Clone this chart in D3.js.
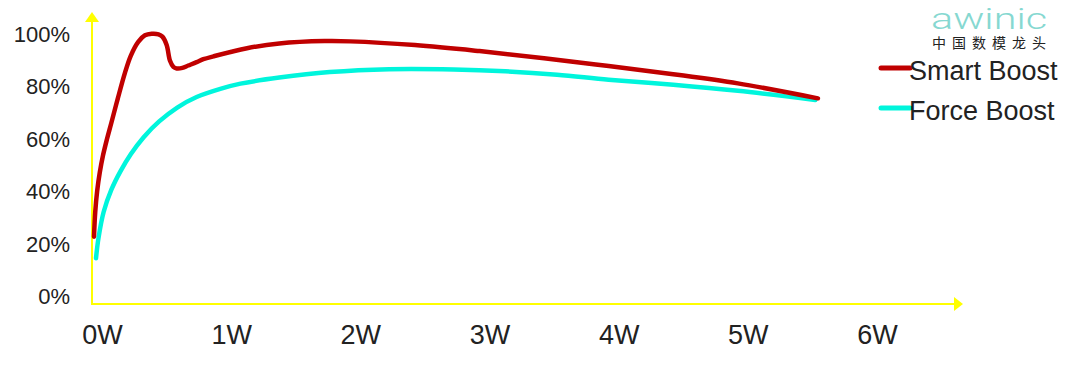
<!DOCTYPE html>
<html>
<head>
<meta charset="utf-8">
<script src="https://cdn.jsdelivr.net/npm/d3@7"></script>
<style>
  body { margin: 0; background: #fff; }
  svg { display: block; }
  .tick text { font-family: "Liberation Sans", Arial, sans-serif; fill: #222; }
</style>
</head>
<body>
<svg id="chart" width="1080" height="370"></svg>
<script>
// power in W, efficiency in %
const smartPower = [0.0155, 0.025, 0.04, 0.06, 0.085, 0.115, 0.15, 0.2, 0.255, 0.30, 0.358, 0.41, 0.462, 0.515, 0.545, 0.578, 0.604, 0.63, 0.656, 0.70, 0.745, 0.81, 0.862, 0.94, 1.2, 1.45, 1.8, 2.0, 2.5, 3.0, 3.5, 4.0, 4.5, 5.0, 5.62]
const smartEff = [22.6, 32, 40, 47, 53.5, 59.6, 66, 75.3, 85, 91.5, 96.8, 99.3, 99.9, 99.7, 98.8, 95.6, 89.6, 87.3, 86.7, 86.9, 87.8, 89.1, 90.2, 91.3, 94.4, 96.2, 97.1, 97, 95.6, 93.3, 90.6, 87.6, 84.5, 81.0, 75.3]

const forcePower = [0.031, 0.05, 0.09, 0.15, 0.22, 0.30, 0.40, 0.52, 0.66, 0.81, 1.0, 1.15, 1.45, 1.84, 2.3, 2.8, 3.2, 3.6, 4.0, 4.5, 5.0, 5.6]
const forceEff = [14.4, 22, 32, 40.5, 47.5, 54, 60.5, 66.5, 71.8, 75.8, 79, 80.9, 83.2, 85.3, 86.4, 86.3, 85.6, 84.3, 82.4, 80.5, 78.2, 74.7]

const xTicks = [0, 1, 2, 3, 4, 5, 6]
const yTicks = [0, 20, 40, 60, 80, 100]
const seriesNames = ["Smart Boost", "Force Boost"]
const seriesColors = ["#c00000", "#00f5dc"]

const svg = d3.select("#chart")

const x = d3.scaleLinear().domain([0, 6]).range([92, 867])
const y = d3.scaleLinear().domain([0, 100]).range([296, 33.5])

const axisColor = "#ffff00"
const x0 = x(0), yBase = 304

// y axis labels
const yAxis = svg.append("g")
    .attr("transform", "translate(" + x0 + ",0)")
    .call(d3.axisLeft(y).tickValues(yTicks).tickFormat(d => d + "%").tickSize(0).tickPadding(22))
yAxis.select(".domain").remove()
yAxis.selectAll("text").style("font-size", "22px").attr("dy", "0.35em")

// x axis labels
const xAxis = svg.append("g")
    .attr("transform", "translate(0," + yBase + ")")
    .call(d3.axisBottom(x).tickValues(xTicks).tickFormat(d => d + "W").tickSize(0).tickPadding(21))
xAxis.select(".domain").remove()
xAxis.selectAll("text").style("font-size", "27px").attr("dx", 10)

// yellow axes with arrows
svg.append("line")
    .attr("x1", x0).attr("x2", x0).attr("y1", yBase).attr("y2", 20)
    .attr("stroke", axisColor).attr("stroke-width", 2)
svg.append("path")
    .attr("d", `M${x0},12 L${x0 - 7},22 L${x0 + 7},22 Z`)
    .attr("fill", axisColor)
svg.append("line")
    .attr("x1", x0 - 1).attr("x2", 956).attr("y1", yBase).attr("y2", yBase)
    .attr("stroke", axisColor).attr("stroke-width", 2)
svg.append("path")
    .attr("d", `M963,${yBase} L954,${yBase - 7} L954,${yBase + 7} Z`)
    .attr("fill", axisColor)

// curves
const line = d3.line()
    .x(d => x(d[0]))
    .y(d => y(d[1]))
    .curve(d3.curveCatmullRom.alpha(0.5))

const series = [
    d3.zip(forcePower, forceEff),
    d3.zip(smartPower, smartEff)
]
const order = [1, 0]

series.forEach((s, i) => {
    svg.append("path")
        .datum(s)
        .attr("d", line)
        .attr("fill", "none")
        .attr("stroke", seriesColors[order[i]])
        .attr("stroke-width", 4.5)
        .attr("stroke-linecap", "round")
})

// legend
const legend = svg.append("g")
seriesNames.forEach((name, i) => {
    const ly = 68 + i * 40
    legend.append("line")
        .attr("x1", 881).attr("x2", 910).attr("y1", ly).attr("y2", ly)
        .attr("stroke", seriesColors[i]).attr("stroke-width", 5)
        .attr("stroke-linecap", "round")
    legend.append("text")
        .attr("x", 909).attr("y", ly + 12)
        .style("font-family", "'Liberation Sans', Arial, sans-serif")
        .style("font-size", "27px")
        .style("fill", "#222")
        .text(name)
})

// logo
svg.append("text")
    .attr("x", 931).attr("y", 28.5)
    .attr("textLength", 116).attr("lengthAdjust", "spacingAndGlyphs")
    .style("font-family", "Roboto, sans-serif")
    .style("font-weight", 300)
    .style("font-size", "30px")
    .style("fill", "#86d8d1")
    .text("awinic")
svg.append("text")
    .attr("x", 932).attr("y", 48)
    .attr("textLength", 114)
    .style("font-family", "'Noto Sans CJK SC', sans-serif")
    .style("font-size", "14px")
    .style("fill", "#222")
    .text("中国数模龙头")
</script>
</body>
</html>
